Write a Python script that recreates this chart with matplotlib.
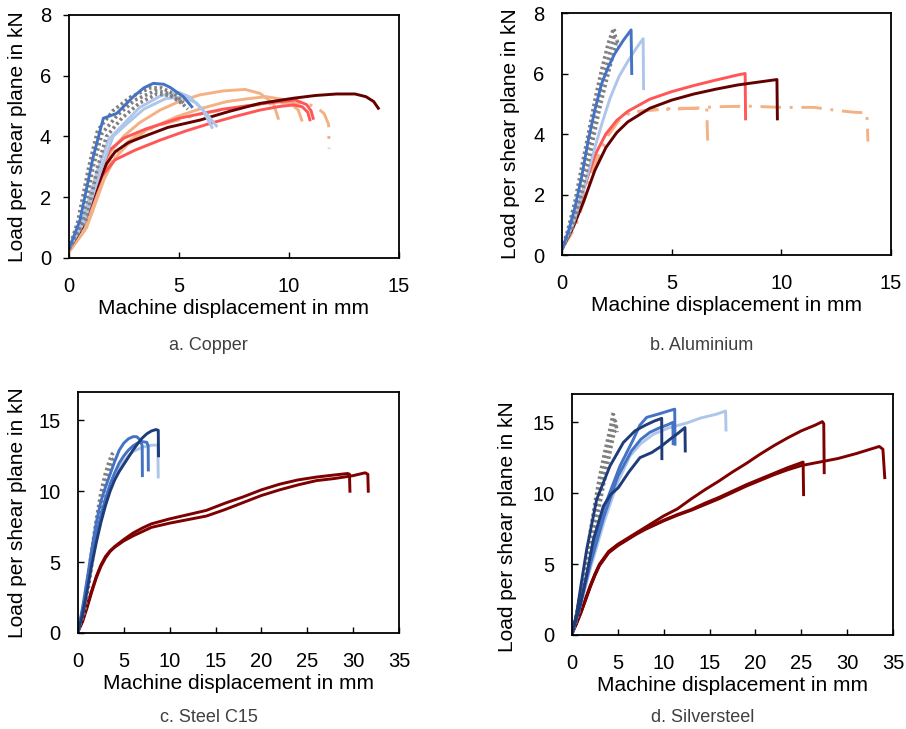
import matplotlib
matplotlib.use("Agg")
import matplotlib.pyplot as plt

plt.rcParams['font.family'] = ['Liberation Sans', 'DejaVu Sans']

# ---------------- a. Copper ----------------
cu_gray1_x = [0, 0.4, 0.9, 1.3, 2.0, 2.8, 3.7, 4.2, 4.8, 5.2]
cu_gray1_y = [0.3, 1.2, 3.0, 4.2, 4.85, 5.3, 5.6, 5.6, 5.4, 5.1]
cu_gray2_x = [0, 0.6, 1.1, 1.5, 2.2, 3.0, 3.9, 4.4, 5.0, 5.4]
cu_gray2_y = [0.3, 1.2, 3.0, 4.1, 4.7, 5.2, 5.5, 5.45, 5.2, 4.9]
cu_gray3_x = [0, 0.8, 1.3, 1.7, 2.4, 3.2, 4.0, 4.6, 5.1]
cu_gray3_y = [0.3, 1.3, 3.0, 4.0, 4.6, 5.1, 5.4, 5.35, 5.1]
cu_blue_x = [0, 0.5, 1.1, 1.56, 2.17, 2.92, 3.4, 3.83, 4.3, 4.59, 5.2, 5.58]
cu_blue_y = [0.3, 1.25, 3.33, 4.6, 4.76, 5.31, 5.6, 5.75, 5.72, 5.62, 5.31, 4.98]
cu_lblue1_x = [0, 0.6, 1.3, 1.8, 2.4, 3.2, 4.2, 5.0, 5.5, 6.1, 6.5]
cu_lblue1_y = [0.3, 1.2, 2.9, 3.9, 4.35, 4.95, 5.35, 5.45, 5.3, 4.85, 4.3]
cu_lblue2_x = [0, 0.7, 1.5, 2.0, 2.6, 3.4, 4.4, 5.2, 5.8, 6.3, 6.7]
cu_lblue2_y = [0.3, 1.2, 3.0, 4.0, 4.4, 4.9, 5.25, 5.3, 5.1, 4.7, 4.35]
cu_peach1_x = [0, 0.7, 1.4, 1.9, 2.47, 3.2, 4.14, 5.0, 5.95, 7.0, 8.0, 8.68, 9.29, 9.51]
cu_peach1_y = [0.2, 0.9, 2.4, 3.5, 4.0, 4.45, 4.87, 5.15, 5.37, 5.5, 5.55, 5.42, 5.09, 4.6]
cu_peach2_x = [0, 0.8, 1.6, 2.1, 2.62, 3.5, 4.89, 6.0, 7.17, 8.2, 8.98, 9.89, 10.42, 10.58]
cu_peach2_y = [0.2, 1.0, 2.6, 3.3, 3.7, 4.2, 4.65, 4.92, 5.15, 5.25, 5.31, 5.2, 4.87, 4.54]
cu_peach3_x = [0, 0.9, 1.7, 2.3, 3.0, 4.0, 6.0, 8.0, 9.5, 10.5, 11.2, 11.6, 11.8, 11.82]
cu_peach3_y = [0.2, 1.2, 2.9, 3.6, 4.0, 4.35, 4.75, 5.0, 5.1, 5.1, 5.0, 4.75, 4.4, 3.6]
cu_red1_x = [0, 0.8, 1.5, 1.86, 2.5, 3.5, 5.0, 7.0, 9.0, 10.3, 10.8, 11.0, 11.1]
cu_red1_y = [0.3, 1.5, 3.0, 3.56, 3.95, 4.25, 4.6, 4.9, 5.1, 5.2, 5.05, 4.85, 4.6]
cu_red2_x = [0, 0.8, 1.5, 2.09, 3.0, 4.14, 5.3, 6.41, 7.5, 8.68, 9.5, 10.2, 10.6, 10.85, 10.95]
cu_red2_y = [0.3, 1.4, 2.7, 3.23, 3.55, 3.88, 4.18, 4.43, 4.65, 4.87, 4.98, 5.04, 4.98, 4.8, 4.55]
cu_dred_x = [0, 0.6, 1.2, 1.7, 2.1, 2.7, 3.4, 4.5, 5.95, 7.3, 8.68, 10.2, 11.2, 12.17, 13.0, 13.5, 13.85, 14.06]
cu_dred_y = [0.3, 1.0, 2.2, 3.1, 3.5, 3.8, 4.0, 4.3, 4.54, 4.83, 5.09, 5.26, 5.35, 5.4, 5.4, 5.31, 5.15, 4.93]

# ---------------- b. Aluminium ----------------
al_gray1_x = [0, 0.27, 0.6, 0.9, 1.2, 1.5, 1.8, 2.11, 2.35, 2.45]
al_gray1_y = [0.2, 0.83, 1.8, 2.92, 4.0, 5.12, 6.1, 7.0, 7.49, 7.3]
al_gray2_x = [0, 0.35, 0.7, 1.0, 1.3, 1.6, 1.9, 2.2, 2.4, 2.5]
al_gray2_y = [0.2, 0.8, 1.75, 2.8, 3.9, 4.95, 5.9, 6.75, 7.3, 7.1]
al_gray3_x = [0, 0.45, 0.8, 1.1, 1.4, 1.7, 2.0, 2.3, 2.5, 2.6]
al_gray3_y = [0.2, 0.85, 1.7, 2.7, 3.75, 4.8, 5.7, 6.55, 7.1, 6.9]
al_blue_x = [0, 0.3, 0.6, 0.9, 1.2, 1.5, 1.8, 2.1, 2.4, 2.8, 3.15, 3.18]
al_blue_y = [0.2, 0.8, 1.6, 2.6, 3.8, 4.8, 5.65, 6.2, 6.65, 7.1, 7.44, 6.0]
al_lblue_x = [0, 0.5, 1.0, 1.4, 1.8, 2.2, 2.6, 3.0, 3.4, 3.7, 3.72]
al_lblue_y = [0.2, 1.0, 2.2, 3.3, 4.3, 5.2, 5.9, 6.4, 6.85, 7.15, 5.5]
al_red_x = [0, 0.5, 1.0, 1.5, 2.0, 2.5, 3.0, 4.0, 5.0, 6.0, 7.0, 8.0, 8.35, 8.37]
al_red_y = [0.2, 1.0, 2.2, 3.3, 4.0, 4.45, 4.75, 5.15, 5.4, 5.6, 5.78, 5.95, 6.0, 4.5]
al_dred_x = [0, 0.5, 1.0, 1.5, 2.0, 2.5, 3.0, 4.0, 5.0, 6.0, 7.0, 8.0, 9.0, 9.8, 9.82]
al_dred_y = [0.2, 0.9, 1.8, 2.8, 3.55, 4.05, 4.4, 4.85, 5.12, 5.32, 5.48, 5.62, 5.72, 5.8, 4.5]
al_peach1_x = [0, 0.5, 1.0, 1.5, 2.0, 2.5, 3.0, 4.0, 5.0, 6.0, 6.6, 6.65]
al_peach1_y = [0.2, 0.9, 2.0, 3.1, 3.95, 4.45, 4.7, 4.8, 4.82, 4.85, 4.85, 3.5]
al_peach2_x = [0, 0.6, 1.1, 1.6, 2.1, 2.6, 3.1, 4.0, 5.0, 6.0, 7.0, 8.5, 10.0, 11.5, 12.5, 13.3, 13.9, 13.95]
al_peach2_y = [0.2, 0.9, 2.0, 3.1, 3.95, 4.45, 4.7, 4.78, 4.85, 4.85, 4.9, 4.92, 4.88, 4.88, 4.78, 4.72, 4.7, 3.75]

# ---------------- c. Steel C15 ----------------
c_gray1_x = [0, 0.5, 1.0, 1.5, 2.0, 2.5, 3.0, 3.4, 3.7, 3.85]
c_gray1_y = [0.2, 1.5, 3.5, 5.8, 8.0, 9.9, 11.3, 12.1, 12.6, 12.7]
c_gray2_x = [0, 0.7, 1.2, 1.7, 2.2, 2.7, 3.2, 3.6, 3.9, 4.05]
c_gray2_y = [0.2, 1.5, 3.5, 5.7, 7.8, 9.6, 11.0, 11.8, 12.3, 12.4]
c_navy_x = [0, 0.5, 1, 1.5, 2, 2.5, 3, 3.5, 4, 4.5, 5, 5.5, 6, 6.5, 7, 7.5, 8, 8.5, 8.75, 8.78]
c_navy_y = [0.1, 1.3, 3.0, 4.8, 6.4, 7.8, 9.0, 10.0, 10.8, 11.4, 11.9, 12.4, 12.9, 13.35, 13.75, 14.05, 14.25, 14.35, 14.3, 12.5]
c_blue1_x = [0, 0.5, 1, 1.5, 2, 2.5, 3, 3.5, 4, 4.5, 5, 5.5, 6, 6.4, 6.8, 7.0, 7.02]
c_blue1_y = [0.1, 1.8, 3.8, 5.9, 7.8, 9.3, 10.3, 11.2, 12.1, 12.9, 13.4, 13.7, 13.85, 13.85, 13.6, 13.2, 11.1]
c_blue2_x = [0, 0.5, 1, 1.5, 2, 2.5, 3, 3.5, 4, 4.5, 5, 5.5, 6, 6.5, 7, 7.5, 7.65, 7.67]
c_blue2_y = [0.1, 1.5, 3.3, 5.2, 6.9, 8.3, 9.5, 10.5, 11.3, 12.0, 12.5, 12.9, 13.2, 13.4, 13.5, 13.45, 13.2, 11.5]
c_lblue_x = [0, 0.5, 1, 1.5, 2, 2.5, 3, 3.5, 4, 4.5, 5, 5.5, 6, 7, 8, 8.7, 8.75]
c_lblue_y = [0.1, 1.4, 3.2, 5.0, 6.6, 8.0, 9.2, 10.2, 11.0, 11.6, 12.1, 12.5, 12.8, 13.1, 13.25, 13.25, 11.0]
c_dred1_x = [0, 0.5, 1, 1.5, 2, 2.5, 3, 3.5, 4, 5, 6, 7, 8, 10, 12, 14, 16, 18, 20, 22, 24, 26, 28, 29.4, 29.6, 29.65]
c_dred1_y = [0.1, 0.9, 2.0, 3.0, 4.0, 4.8, 5.4, 5.8, 6.1, 6.6, 7.05, 7.4, 7.7, 8.05, 8.35, 8.65, 9.15, 9.6, 10.1, 10.5, 10.8, 11.0, 11.15, 11.25, 11.2, 10.0]
c_dred2_x = [0, 0.5, 1, 1.5, 2, 2.5, 3, 3.5, 4, 5, 6, 7, 8, 10, 12, 14, 16, 18, 20, 22, 24, 26, 28, 30, 31.3, 31.6, 31.65]
c_dred2_y = [0.1, 0.8, 1.8, 2.9, 3.9, 4.7, 5.3, 5.75, 6.05, 6.5, 6.85, 7.15, 7.45, 7.75, 8.0, 8.25, 8.7, 9.2, 9.7, 10.1, 10.45, 10.75, 10.9, 11.1, 11.3, 11.2, 10.0]

# ---------------- d. Silversteel ----------------
d_gray1_x = [0, 0.5, 1, 1.5, 2, 2.5, 3, 3.5, 4, 4.3, 4.5, 4.6]
d_gray1_y = [0.1, 1.5, 3.2, 5.2, 7.3, 9.3, 11.1, 12.7, 14.1, 15.0, 15.7, 15.5]
d_gray2_x = [0, 0.6, 1.2, 1.7, 2.2, 2.7, 3.2, 3.7, 4.15, 4.45, 4.65, 4.75]
d_gray2_y = [0.1, 1.5, 3.3, 5.1, 7.1, 9.0, 10.8, 12.4, 13.8, 14.7, 15.3, 15.0]
d_gray3_x = [0, 0.7, 1.4, 1.9, 2.4, 2.9, 3.4, 3.9, 4.3, 4.6, 4.8, 4.9]
d_gray3_y = [0.1, 1.5, 3.4, 5.1, 7.0, 8.8, 10.5, 12.1, 13.4, 14.3, 14.9, 14.3]
d_navy1_x = [0, 0.51, 1.0, 1.6, 2.69, 4.14, 5.6, 6.87, 8.0, 9.0, 9.78, 9.8]
d_navy1_y = [0.1, 1.54, 3.6, 6.02, 9.56, 11.92, 13.58, 14.4, 14.8, 15.1, 15.28, 12.44]
d_navy2_x = [0, 0.87, 1.5, 2.33, 3.42, 4.2, 5.05, 6.2, 7.41, 8.69, 9.7, 10.69, 11.6, 12.32, 12.35]
d_navy2_y = [0.1, 2.0, 3.9, 6.73, 9.09, 9.9, 10.39, 11.5, 12.51, 12.87, 13.3, 13.81, 14.25, 14.63, 12.98]
d_blue1_x = [0, 1.0, 1.96, 3.42, 5.23, 6.69, 7.4, 8.14, 9.5, 10.5, 11.2, 11.23]
d_blue1_y = [0.1, 2.6, 5.3, 8.85, 11.92, 13.8, 14.8, 15.35, 15.6, 15.8, 15.93, 13.46]
d_blue2_x = [0, 1.0, 2.0, 3.5, 5.0, 6.5, 7.5, 8.5, 9.5, 10.5, 11.0, 11.03]
d_blue2_y = [0.1, 2.4, 5.0, 8.4, 11.2, 13.0, 13.8, 14.3, 14.6, 14.85, 15.0, 13.5]
d_lblue_x = [0, 1.0, 2.0, 3.5, 5.0, 6.32, 7.5, 8.87, 10.5, 12.5, 14.0, 15.78, 16.75, 16.79]
d_lblue_y = [0.1, 2.3, 4.7, 8.0, 10.8, 12.63, 13.5, 14.16, 14.6, 14.95, 15.3, 15.58, 15.8, 14.46]
d_dred1_x = [0, 0.5, 1, 1.5, 2, 2.5, 3, 4, 5, 6, 7, 8, 9, 10, 11.5, 13, 14.5, 16, 17.5, 19, 20.5, 22, 23.5, 25, 26.5, 27.3, 27.45, 27.5]
d_dred1_y = [0.1, 0.9, 1.7, 2.6, 3.5, 4.3, 5.0, 5.9, 6.4, 6.8, 7.2, 7.6, 8.0, 8.4, 8.9, 9.6, 10.25, 10.85, 11.5, 12.1, 12.75, 13.35, 13.9, 14.4, 14.8, 15.05, 14.9, 11.45]
d_dred2_x = [0, 0.5, 1, 1.5, 2, 2.5, 3, 4, 5, 6, 7, 8, 9, 10, 11.5, 13, 14.5, 16, 17.5, 19, 20.5, 22, 23.5, 25, 25.2, 25.25]
d_dred2_y = [0.1, 0.85, 1.65, 2.55, 3.45, 4.25, 4.95, 5.85, 6.35, 6.75, 7.15, 7.5, 7.8, 8.1, 8.5, 8.85, 9.3, 9.7, 10.15, 10.6, 11.0, 11.4, 11.8, 12.15, 12.2, 9.9]
d_dred3_x = [0, 0.5, 1, 1.5, 2, 2.5, 3, 4, 5, 6, 7, 8, 9, 10, 11.5, 13, 14.5, 16, 17.5, 19, 20.5, 22, 23.5, 25, 27, 29, 31, 32.5, 33.5, 33.9, 34.1]
d_dred3_y = [0.1, 0.8, 1.6, 2.5, 3.4, 4.2, 4.9, 5.8, 6.3, 6.7, 7.1, 7.45, 7.75, 8.05, 8.45, 8.8, 9.2, 9.6, 10.05, 10.5, 10.9, 11.3, 11.65, 11.95, 12.2, 12.45, 12.8, 13.1, 13.3, 13.1, 11.1]

# ---------------- labels ----------------
xlabel_text = "Machine displacement in mm"
ylabel_text = "Load per shear plane in kN"
captions = ["a. Copper", "b. Aluminium", "c. Steel C15", "d. Silversteel"]
ticks_ab_x = [0, 5, 10, 15]
ticks_ab_y = [0, 2, 4, 6, 8]
ticks_cd_x = [0, 5, 10, 15, 20, 25, 30, 35]
ticks_cd_y = [0, 5, 10, 15]

GRAY = '#7F7F7F'
BLUE = '#4472C4'
LBLUE = '#AEC6EA'
NAVY = '#1F3C7A'
RED = '#FF5757'
PEACH = '#F4B183'
DRED_A = '#640000'
DRED_C = '#7F0000'
LW = 2.1
DOT = (0, (0.7, 0.8))
DASHDOT = (0, (7, 3, 1, 3))

fig = plt.figure(figsize=(9.06, 7.29), dpi=100)
W, H = 906, 729

def add_ax(l, r, t, b):
    return fig.add_axes([l / W, 1 - b / H, (r - l) / W, (b - t) / H])

axa = add_ax(69, 399, 15, 258)
axb = add_ax(562, 891, 13, 255)
axc = add_ax(78, 399, 392, 633)
axd = add_ax(572, 893, 394, 635)

def gray(ax, x, y):
    ax.plot(x, y, color=GRAY, lw=2.6, linestyle=DOT, solid_capstyle='butt')

def line(ax, x, y, c, ls='-'):
    ax.plot(x, y, color=c, lw=LW, linestyle=ls, solid_joinstyle='round')

# a
line(axa, cu_peach3_x, cu_peach3_y, PEACH, DASHDOT)
line(axa, cu_peach1_x, cu_peach1_y, PEACH)
line(axa, cu_peach2_x, cu_peach2_y, PEACH)
line(axa, cu_red2_x, cu_red2_y, RED)
line(axa, cu_red1_x, cu_red1_y, RED)
line(axa, cu_dred_x, cu_dred_y, DRED_A)
line(axa, cu_lblue1_x, cu_lblue1_y, LBLUE)
line(axa, cu_lblue2_x, cu_lblue2_y, LBLUE)
gray(axa, cu_gray1_x, cu_gray1_y)
gray(axa, cu_gray2_x, cu_gray2_y)
gray(axa, cu_gray3_x, cu_gray3_y)
line(axa, cu_blue_x, cu_blue_y, BLUE)

# b
line(axb, al_peach1_x, al_peach1_y, PEACH, DASHDOT)
line(axb, al_peach2_x, al_peach2_y, PEACH, DASHDOT)
line(axb, al_red_x, al_red_y, RED)
line(axb, al_dred_x, al_dred_y, DRED_A)
line(axb, al_lblue_x, al_lblue_y, LBLUE)
gray(axb, al_gray1_x, al_gray1_y)
gray(axb, al_gray2_x, al_gray2_y)
gray(axb, al_gray3_x, al_gray3_y)
line(axb, al_blue_x, al_blue_y, BLUE)

# c
line(axc, c_dred1_x, c_dred1_y, DRED_C)
line(axc, c_dred2_x, c_dred2_y, DRED_C)
gray(axc, c_gray1_x, c_gray1_y)
gray(axc, c_gray2_x, c_gray2_y)
line(axc, c_lblue_x, c_lblue_y, LBLUE)
line(axc, c_blue2_x, c_blue2_y, BLUE)
line(axc, c_blue1_x, c_blue1_y, BLUE)
line(axc, c_navy_x, c_navy_y, NAVY)

# d
line(axd, d_dred1_x, d_dred1_y, DRED_C)
line(axd, d_dred2_x, d_dred2_y, DRED_C)
line(axd, d_dred3_x, d_dred3_y, DRED_C)
gray(axd, d_gray1_x, d_gray1_y)
gray(axd, d_gray2_x, d_gray2_y)
gray(axd, d_gray3_x, d_gray3_y)
line(axd, d_lblue_x, d_lblue_y, LBLUE)
line(axd, d_blue2_x, d_blue2_y, BLUE)
line(axd, d_blue1_x, d_blue1_y, BLUE)
line(axd, d_navy2_x, d_navy2_y, NAVY)
line(axd, d_navy1_x, d_navy1_y, NAVY)

FS_TICK = 14.5
FS_LAB = 15
for ax, xt, yt, xl, yl, ydir in [
        (axa, ticks_ab_x, ticks_ab_y, 15, 8, 'out'),
        (axb, ticks_ab_x, ticks_ab_y, 15, 8, 'in'),
        (axc, ticks_cd_x, ticks_cd_y, 35, 17, 'in'),
        (axd, ticks_cd_x, ticks_cd_y, 35, 17, 'in')]:
    ax.set_xlim(0, xl)
    ax.set_ylim(0, yl)
    ax.set_xticks(xt)
    ax.set_yticks(yt)
    ax.tick_params(axis='x', direction='in', length=4, width=1.0, pad=14, labelsize=FS_TICK)
    ax.tick_params(axis='y', direction=ydir, length=4, width=1.0,
                   pad=(9 if ydir == 'out' else 12.5), labelsize=FS_TICK)
    for s in ax.spines.values():
        s.set_linewidth(1.3)
        s.set_color('black')
    ax.set_xlabel(xlabel_text, fontsize=FS_LAB, labelpad=2)
    ax.set_ylabel(ylabel_text, fontsize=FS_LAB)

axa.yaxis.set_label_coords(-0.127, 0.5)
axb.yaxis.set_label_coords(-0.128, 0.5)
axc.yaxis.set_label_coords(-0.159, 0.5)
axd.yaxis.set_label_coords(-0.171, 0.45)

cap_pos = [(208, 346), (702, 346), (209, 717), (703, 718)]
for txt, (cx, cy) in zip(captions, cap_pos):
    fig.text(cx / W, 1 - cy / H, txt, ha='center', va='center', fontsize=13, color='#404040')

fig.savefig('out.png', dpi=100)
